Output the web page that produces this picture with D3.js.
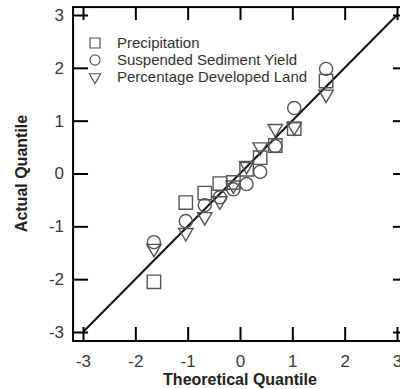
<!DOCTYPE html>
<html>
<head>
<meta charset="utf-8">
<script src="https://cdn.jsdelivr.net/npm/d3@7"></script>
<style>
	body { margin: 0; background: #fff; }
	svg { display: block; font-family: "Liberation Sans", Arial, sans-serif; }
</style>
</head>
<body>
<svg width="400" height="389"></svg>
<script>
// theoretical quantiles (x) shared by all three series
var theoQuantiles = [-1.645, -1.036, -0.674, -0.385, -0.126, 0.126, 0.385, 0.674, 1.036, 1.645];

// actual quantiles
var precipitation = [-2.05, -0.55, -0.37, -0.19, -0.17, 0.08, 0.30, 0.53, 0.85, 1.75];
var sedimentYield = [-1.30, -0.90, -0.60, -0.45, -0.30, -0.20, 0.03, 0.52, 1.24, 1.98];
var developedLand = [-1.42, -1.12, -0.82, -0.52, -0.22, 0.15, 0.50, 0.85, 0.88, 1.50];

var seriesNames = ["Precipitation", "Suspended Sediment Yield", "Percentage Developed Land"];
var tickValues = [-3, -2, -1, 0, 1, 2, 3];
var refLine = [-3, 3];

function drawChart() {
	var svg = d3.select("svg");

	// set the ranges
	var x = d3.scaleLinear().domain([-3, 3]).range([83, 397]);
	var y = d3.scaleLinear().domain([-3, 3]).range([332, 15]);

	var left = x(-3.19), right = x(3.19),
		top = y(3.15), bottom = y(-3.17);

	var symbols = [d3.symbolSquare, d3.symbolCircle, d3.symbolTriangle];
	var plotSizes = [180, 135, 90];
	var legendSizes = [100, 80, 55];
	var rotations = [0, 0, 180];

	// plain hyphen for negatives, like the original
	var fmt = function(d) { return String(d); };

	var series = [precipitation, sedimentYield, developedLand].map(function(vals, i) {
		return vals.map(function(v, j) {
			return { tq: theoQuantiles[j], aq: v, s: i };
		});
	});

	// ticks on all four sides, pointing inward
	var bottomAxis = svg.append("g")
		.attr("transform", "translate(0," + bottom + ")")
		.call(d3.axisBottom(x).tickValues(tickValues).tickSize(-14).tickPadding(14).tickFormat(fmt));
	var leftAxis = svg.append("g")
		.attr("transform", "translate(" + left + ",0)")
		.call(d3.axisLeft(y).tickValues(tickValues).tickSize(-15).tickPadding(9).tickFormat(fmt));
	var topAxis = svg.append("g")
		.attr("transform", "translate(0," + top + ")")
		.call(d3.axisTop(x).tickValues(tickValues).tickSize(-13).tickFormat(""));
	var rightAxis = svg.append("g")
		.attr("transform", "translate(" + right + ",0)")
		.call(d3.axisRight(y).tickValues(tickValues).tickSize(-14).tickFormat(""));

	[bottomAxis, leftAxis, topAxis, rightAxis].forEach(function(a) {
		a.select(".domain").remove();
		a.selectAll(".tick line").attr("stroke", "#000").attr("stroke-width", 2);
		a.selectAll(".tick text")
			.attr("fill", "#3a3a3a")
			.style("font-size", "17px")
			.style("font-family", "'Liberation Sans', Arial, sans-serif");
	});

	// frame
	svg.append("rect")
		.attr("x", left)
		.attr("y", top)
		.attr("width", right - left)
		.attr("height", bottom - top)
		.attr("fill", "none")
		.attr("stroke", "#000")
		.attr("stroke-width", 2);

	// 1:1 line
	var line = d3.line()
		.x(function(d) { return x(d); })
		.y(function(d) { return y(d); });

	svg.append("path")
		.datum(refLine)
		.attr("d", line)
		.attr("fill", "none")
		.attr("stroke", "#111")
		.attr("stroke-width", 2);

	// points
	series.forEach(function(pts, i) {
		svg.append("g").selectAll("path")
			.data(pts)
			.enter().append("path")
			.attr("d", d3.symbol().type(symbols[i]).size(plotSizes[i]))
			.attr("transform", function(d) {
				return "translate(" + x(d.tq) + "," + y(d.aq) + ") rotate(" + rotations[i] + ")";
			})
			.attr("fill", "none")
			.attr("stroke", "#555")
			.attr("stroke-width", 1.4);
	});

	// legend
	var legend = svg.append("g");
	seriesNames.forEach(function(name, i) {
		var ly = 43 + i * 17;
		legend.append("path")
			.attr("d", d3.symbol().type(symbols[i]).size(legendSizes[i]))
			.attr("transform", "translate(95," + ly + ") rotate(" + rotations[i] + ")")
			.attr("fill", "none")
			.attr("stroke", "#555")
			.attr("stroke-width", 1.2);
		legend.append("text")
			.attr("x", 117)
			.attr("y", ly)
			.attr("dy", "0.35em")
			.attr("fill", "#333")
			.style("font-size", "15px")
			.text(name);
	});

	// axis titles
	svg.append("text")
		.attr("x", x(0))
		.attr("y", 385)
		.attr("text-anchor", "middle")
		.attr("fill", "#222")
		.style("font-size", "16px")
		.style("font-weight", "bold")
		.text("Theoretical Quantile");

	svg.append("text")
		.attr("transform", "translate(27," + y(0) + ") rotate(-90)")
		.attr("text-anchor", "middle")
		.attr("fill", "#222")
		.style("font-size", "16px")
		.style("font-weight", "bold")
		.text("Actual Quantile");
}

drawChart();
</script>
</body>
</html>
